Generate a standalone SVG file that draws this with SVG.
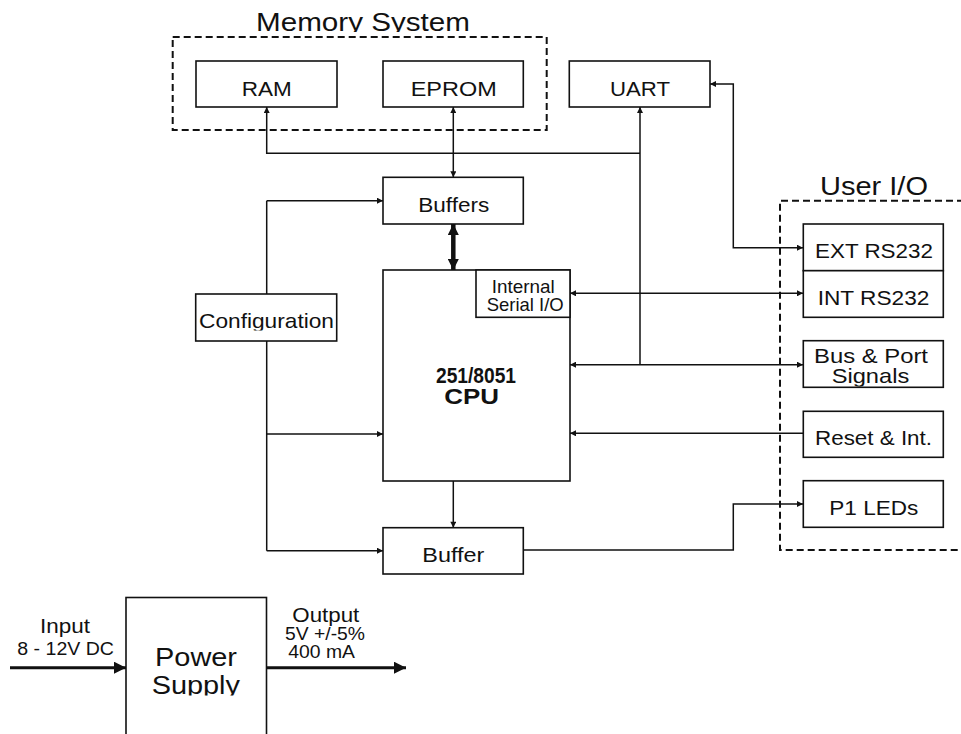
<svg xmlns="http://www.w3.org/2000/svg" width="961" height="734" viewBox="0 0 961 734">
  <style>
    .box { fill: #fff; stroke: #111; stroke-width: 1.6; }
    .grp { fill: none; stroke: #111; stroke-width: 2; stroke-dasharray: 7 4; }
    .ln { fill: none; stroke: #111; stroke-width: 1.5; }
    .bus { fill: none; stroke: #111; stroke-width: 4.5; }
    .pw { fill: none; stroke: #111; stroke-width: 3; }
    text { font-family: "Liberation Sans", Arial, sans-serif; fill: #111; font-size: 21px; }
    .big { font-size: 25px; }
    .sm { font-size: 18px; }
    .mid { font-size: 19px; }
    .b { font-weight: bold; font-size: 22px; }
  </style>
  <defs>
    <marker id="ah" viewBox="0 0 10 10" refX="10" refY="5" markerWidth="8" markerHeight="6" markerUnits="userSpaceOnUse" orient="auto-start-reverse">
      <path d="M0,0 L10,5 L0,10 z" fill="#111"/>
    </marker>
    <marker id="ahBus" viewBox="0 0 10 10" refX="10" refY="5" markerWidth="13" markerHeight="11" markerUnits="userSpaceOnUse" orient="auto-start-reverse">
      <path d="M0,0 L10,5 L0,10 z" fill="#111"/>
    </marker>
    <marker id="ahPw" viewBox="0 0 10 10" refX="10" refY="5" markerWidth="16" markerHeight="12" markerUnits="userSpaceOnUse" orient="auto">
      <path d="M0,0 L10,5 L0,10 z" fill="#111"/>
    </marker>
    <!-- label areas are cut at their frame edges, trimming descenders -->
    <clipPath id="clipMem"><rect x="0" y="0" width="961" height="32"/></clipPath>
    <clipPath id="clipCfg"><rect x="0" y="0" width="961" height="330.5"/></clipPath>
    <clipPath id="clipSig"><rect x="0" y="0" width="961" height="386.5"/></clipPath>
    <clipPath id="clipPsu"><rect x="0" y="0" width="961" height="695.5"/></clipPath>
  </defs>

  <rect width="961" height="734" fill="#fff"/>

  <!-- grouping frames -->
  <g id="memory-system">
    <rect class="grp" x="172.7" y="37" width="374" height="93"/>
    <text class="big" x="256" y="31" textLength="214" lengthAdjust="spacingAndGlyphs" clip-path="url(#clipMem)">Memory System</text>
  </g>
  <g id="user-io">
    <path class="grp" d="M975,200.7 H780 V550 H975"/>
    <text class="big" x="820" y="195" textLength="108" lengthAdjust="spacingAndGlyphs">User I/O</text>
  </g>

  <!-- connectors -->
  <g id="connectors">
    <path class="ln" d="M640,153.3 H266.7 V107" marker-end="url(#ah)"/>
    <path class="ln" d="M640,364.7 V107" marker-end="url(#ah)"/>
    <path class="ln" d="M453.3,107 V177.3" marker-start="url(#ah)" marker-end="url(#ah)"/>
    <path class="bus" d="M453.3,224 V270" marker-start="url(#ahBus)" marker-end="url(#ahBus)"/>
    <path class="ln" d="M266.7,200.7 V550.7"/>
    <path class="ln" d="M266.7,200.7 H383" marker-end="url(#ah)"/>
    <path class="ln" d="M266.7,434 H383" marker-end="url(#ah)"/>
    <path class="ln" d="M266.7,550.7 H383" marker-end="url(#ah)"/>
    <path class="ln" d="M710,84 H733.3 V247.7 H803" marker-start="url(#ah)" marker-end="url(#ah)"/>
    <path class="ln" d="M570,293.3 H803" marker-start="url(#ah)" marker-end="url(#ah)"/>
    <path class="ln" d="M570,364.7 H803" marker-start="url(#ah)" marker-end="url(#ah)"/>
    <path class="ln" d="M803,433.3 H570" marker-end="url(#ah)"/>
    <path class="ln" d="M453.3,481 V527.7" marker-end="url(#ah)"/>
    <path class="ln" d="M523,550 H733.3 V504 H803" marker-end="url(#ah)"/>
    <path class="pw" d="M10,667.7 H126" marker-end="url(#ahPw)"/>
    <path class="pw" d="M266.7,667.7 H406" marker-end="url(#ahPw)"/>
  </g>

  <!-- nodes -->
  <g id="ram">
    <rect class="box" x="196" y="61" width="141" height="46"/>
    <text x="241.7" y="96" textLength="50" lengthAdjust="spacingAndGlyphs">RAM</text>
  </g>
  <g id="eprom">
    <rect class="box" x="383" y="61" width="140.3" height="46"/>
    <text x="410.7" y="96" textLength="86" lengthAdjust="spacingAndGlyphs">EPROM</text>
  </g>
  <g id="uart">
    <rect class="box" x="569.3" y="61" width="140.7" height="46"/>
    <text x="610" y="96" textLength="60" lengthAdjust="spacingAndGlyphs">UART</text>
  </g>
  <g id="buffers">
    <rect class="box" x="383" y="177.3" width="140.3" height="46.7"/>
    <text x="418.3" y="212.3" font-size="22" textLength="71" lengthAdjust="spacingAndGlyphs">Buffers</text>
  </g>
  <g id="cpu">
    <rect class="box" x="383" y="270" width="187" height="211"/>
    <text class="b" x="436" y="383.3" textLength="80" lengthAdjust="spacingAndGlyphs">251/8051</text>
    <text class="b" x="444.3" y="404.3" textLength="54.7" lengthAdjust="spacingAndGlyphs">CPU</text>
  </g>
  <g id="internal-serial-io">
    <rect class="box" x="476" y="270" width="94" height="47.3"/>
    <text class="mid" x="491.7" y="293.3" textLength="63" lengthAdjust="spacingAndGlyphs">Internal</text>
    <text class="mid" x="486.7" y="311" textLength="77" lengthAdjust="spacingAndGlyphs">Serial I/O</text>
  </g>
  <g id="configuration">
    <rect class="box" x="195.7" y="294" width="141" height="47"/>
    <text x="199" y="328.3" font-size="22" textLength="135" lengthAdjust="spacingAndGlyphs" clip-path="url(#clipCfg)">Configuration</text>
  </g>
  <g id="buffer">
    <rect class="box" x="383" y="527.7" width="140.3" height="46.3"/>
    <text x="453.3" y="562" font-size="22" text-anchor="middle" textLength="62" lengthAdjust="spacingAndGlyphs">Buffer</text>
  </g>
  <g id="ext-rs232">
    <rect class="box" x="803.3" y="224" width="140" height="46.7"/>
    <text x="815" y="258" font-size="22" textLength="118" lengthAdjust="spacingAndGlyphs">EXT RS232</text>
  </g>
  <g id="int-rs232">
    <rect class="box" x="803.3" y="270.7" width="140" height="46.6"/>
    <text x="817.7" y="305" font-size="22" textLength="111.7" lengthAdjust="spacingAndGlyphs">INT RS232</text>
  </g>
  <g id="bus-port-signals">
    <rect class="box" x="803.3" y="340.7" width="140" height="46.6"/>
    <text x="814" y="363.3" font-size="22" textLength="114" lengthAdjust="spacingAndGlyphs">Bus &amp; Port</text>
    <text x="831.7" y="382.7" font-size="22" textLength="77.6" lengthAdjust="spacingAndGlyphs" clip-path="url(#clipSig)">Signals</text>
  </g>
  <g id="reset-int">
    <rect class="box" x="803.3" y="411.3" width="140" height="46"/>
    <text x="815" y="445" font-size="22" textLength="117" lengthAdjust="spacingAndGlyphs">Reset &amp; Int.</text>
  </g>
  <g id="p1-leds">
    <rect class="box" x="803.3" y="480.7" width="140" height="46.6"/>
    <text x="829.3" y="515" font-size="22" textLength="89" lengthAdjust="spacingAndGlyphs">P1 LEDs</text>
  </g>
  <g id="power-supply">
    <rect class="box" x="126" y="597.5" width="140.5" height="150"/>
    <text class="big" x="155" y="666" textLength="82" lengthAdjust="spacingAndGlyphs">Power</text>
    <text class="big" x="151.7" y="694.3" textLength="88.3" lengthAdjust="spacingAndGlyphs" clip-path="url(#clipPsu)">Supply</text>
  </g>
  <g id="power-labels">
    <text x="40" y="632.7" textLength="50" lengthAdjust="spacingAndGlyphs">Input</text>
    <text class="sm" x="17.3" y="655" textLength="96.7" lengthAdjust="spacingAndGlyphs">8 - 12V DC</text>
    <text x="292.3" y="621.7" font-size="22" textLength="67" lengthAdjust="spacingAndGlyphs">Output</text>
    <text class="sm" x="285" y="640" textLength="80" lengthAdjust="spacingAndGlyphs">5V +/-5%</text>
    <text class="sm" x="288.3" y="658.3" textLength="66.7" lengthAdjust="spacingAndGlyphs">400 mA</text>
  </g>
</svg>
